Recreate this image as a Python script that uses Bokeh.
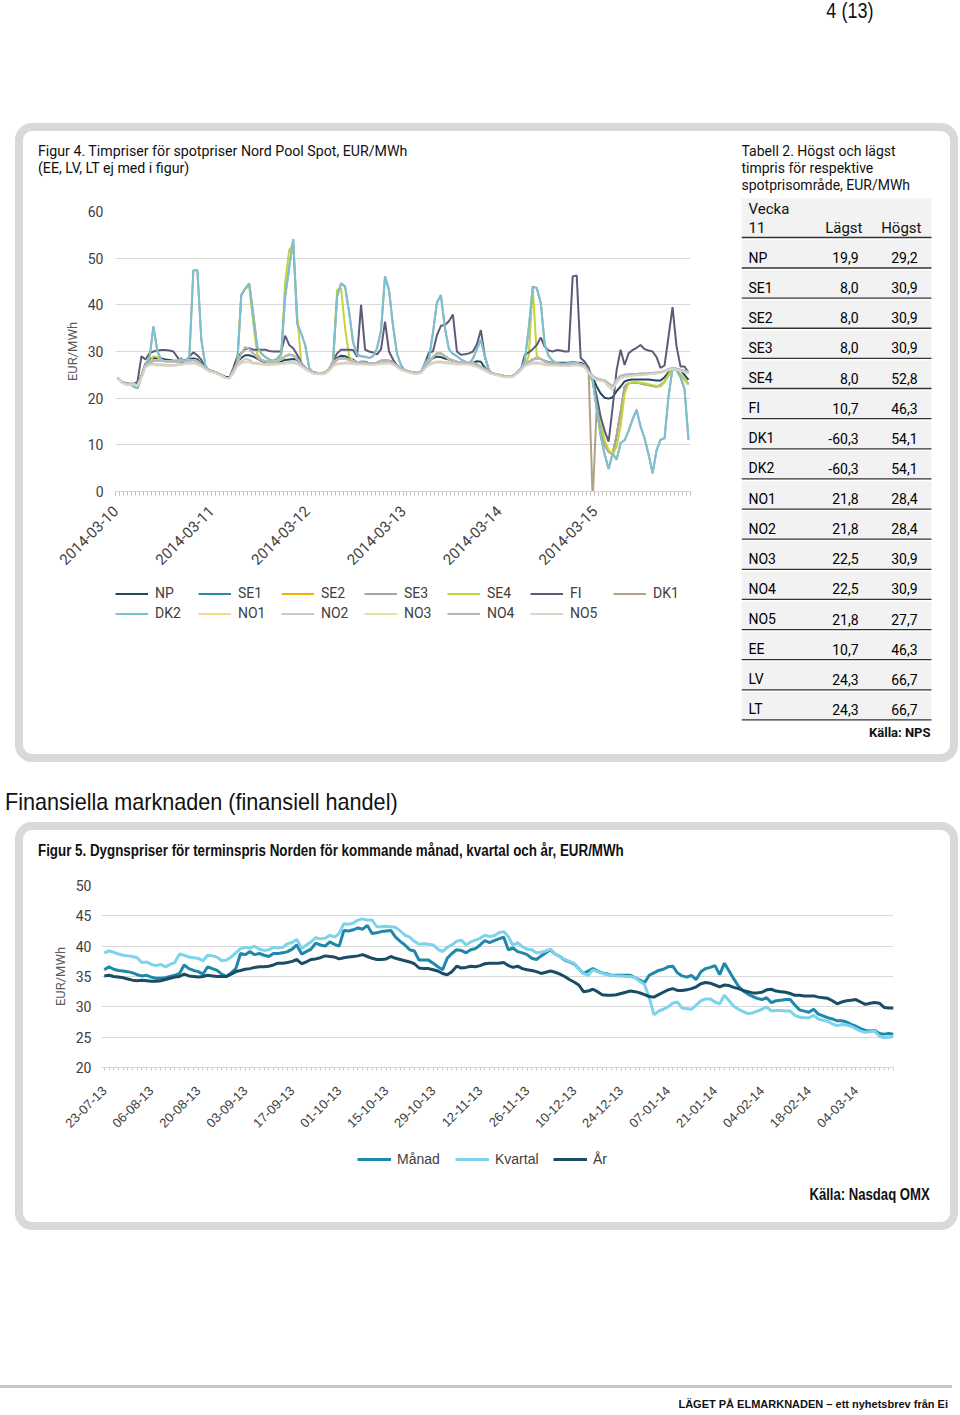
import math
from bokeh.plotting import figure
from bokeh.models import Div, Range1d, FixedTicker, Legend, LegendItem
from bokeh.layouts import column, row
from bokeh.embed import file_html
from bokeh.resources import INLINE
from bokeh.core.properties import value

# ---------------- Figur 4 data: hourly spot prices, week 11 (EUR/MWh) ----------------
day_labels = ["2014-03-10", "2014-03-11", "2014-03-12", "2014-03-13", "2014-03-14", "2014-03-15"]

np_prices = [24.3, 23.6, 23.2, 23.1, 23.1, 23.0, 24.8, 27.4, 28.3, 28.6, 28.6, 28.5, 28.3, 28.2, 28.0, 28.0, 28.0, 28.2, 28.4, 28.5, 28.3, 27.5, 26.5, 26.0,
             25.7, 25.4, 25.0, 24.6, 24.5, 26.0, 27.8, 28.6, 29.2, 29.2, 28.9, 28.5, 28.0, 27.7, 27.6, 27.5, 27.6, 27.9, 28.2, 28.3, 28.4, 28.2, 27.3, 26.5,
             26.0, 25.6, 25.4, 25.4, 25.5, 26.3, 27.8, 28.6, 29.1, 29.0, 28.6, 28.2, 27.7, 27.8, 27.8, 27.5, 27.5, 27.6, 28.0, 28.1, 28.0, 27.8, 27.0, 26.4,
             26.0, 25.7, 25.5, 25.4, 25.7, 26.8, 27.8, 28.6, 28.9, 28.8, 28.5, 28.3, 28.0, 27.8, 27.7, 27.6, 27.5, 27.6, 27.9, 27.8, 26.5, 25.7, 25.3, 25.1,
             24.9, 24.7, 24.7, 24.8, 25.4, 26.4, 27.3, 27.8, 28.3, 28.6, 28.4, 28.0, 27.7, 27.6, 27.6, 27.6, 27.6, 27.6, 27.7, 27.6, 27.6, 27.2, 26.0, 24.5,
             22.5, 21.0, 20.1, 19.9, 20.2, 21.5, 22.5, 23.6, 23.9, 24.0, 24.0, 24.0, 24.0, 24.0, 23.9, 23.8, 23.8, 24.5, 25.5, 26.4, 26.3, 26.0, 25.0, 23.9]

se_1_3 = [24.3, 23.5, 23.0, 23.0, 23.0, 22.8, 24.5, 26.9, 27.6, 28.0, 28.1, 28.0, 27.9, 27.8, 27.8, 27.8, 27.9, 28.0, 28.1, 28.2, 27.9, 27.2, 26.4, 25.9,
          25.6, 25.3, 24.9, 24.4, 24.3, 25.6, 27.6, 29.5, 30.9, 30.5, 29.6, 28.8, 28.2, 27.9, 27.8, 27.8, 27.9, 28.3, 29.0, 29.3, 29.2, 28.4, 27.4, 26.5,
          25.9, 25.5, 25.3, 25.3, 25.4, 26.2, 27.5, 28.3, 28.6, 28.5, 28.2, 27.9, 27.7, 27.6, 27.6, 27.5, 27.5, 27.6, 28.0, 28.2, 28.0, 27.6, 26.9, 26.3,
          26.0, 25.7, 25.5, 25.4, 25.6, 26.7, 27.8, 28.8, 29.6, 29.6, 29.0, 28.4, 28.1, 27.8, 27.7, 27.6, 27.6, 27.5, 27.2, 26.7, 26.2, 25.7, 25.3, 25.1,
          24.9, 24.7, 24.7, 24.8, 25.4, 26.3, 27.1, 27.8, 28.3, 28.5, 28.4, 27.9, 27.5, 27.4, 27.4, 27.3, 27.3, 27.3, 27.4, 27.4, 27.3, 27.0, 25.5, 24.0,
          18.0, 13.0, 10.0, 8.5, 8.0, 12.0, 17.0, 22.5, 23.2, 23.3, 23.3, 23.2, 23.0, 22.8, 22.6, 22.5, 22.8, 23.5, 25.0, 26.4, 26.0, 25.0, 24.0, 23.0]

se4 = [24.3, 23.5, 23.0, 23.0, 23.0, 22.8, 24.5, 26.9, 27.6, 29.0, 28.8, 28.0, 27.9, 27.8, 27.8, 27.8, 27.9, 28.0, 28.1, 28.2, 27.9, 27.2, 26.4, 25.9,
       25.6, 25.3, 24.9, 24.4, 24.3, 25.6, 28.0, 42.0, 43.5, 43.9, 36.0, 29.5, 28.2, 27.9, 27.8, 27.8, 27.9, 29.0, 45.0, 51.8, 52.8, 38.0, 27.5, 26.5,
       25.9, 25.5, 25.3, 25.3, 25.4, 26.2, 28.0, 43.2, 43.5, 35.0, 29.0, 27.9, 27.7, 27.6, 27.6, 27.5, 27.5, 27.6, 28.0, 28.2, 28.0, 27.6, 26.9, 26.3,
       26.0, 25.7, 25.5, 25.4, 25.6, 26.7, 27.8, 28.8, 29.6, 29.6, 29.0, 28.4, 28.1, 27.8, 27.7, 27.6, 27.6, 27.5, 27.2, 26.7, 26.2, 25.7, 25.3, 25.1,
       24.9, 24.7, 24.7, 24.8, 25.4, 26.3, 27.1, 29.0, 43.9, 29.0, 28.4, 27.9, 27.5, 27.4, 27.4, 27.3, 27.3, 27.3, 27.4, 27.4, 27.3, 27.0, 25.5, 23.5,
       20.0, 15.0, 11.0, 8.9, 8.0, 9.6, 14.0, 21.0, 23.2, 23.4, 23.4, 23.3, 23.2, 23.0, 22.8, 22.6, 22.5, 23.5, 25.0, 26.4, 26.0, 25.0, 24.0, 22.9]

fi = [24.3, 23.5, 23.0, 23.0, 23.0, 23.5, 29.0, 28.3, 29.6, 30.0, 30.2, 30.3, 30.3, 30.2, 30.0, 28.8, 27.6, 27.8, 28.9, 29.8, 29.2, 28.2, 26.3, 25.8,
      25.6, 25.3, 24.9, 24.4, 24.3, 26.5, 28.9, 29.6, 30.5, 30.7, 30.4, 30.4, 30.4, 30.4, 30.1, 30.0, 30.0, 30.0, 33.4, 31.4, 30.7, 29.3, 27.6, 26.5,
      25.8, 25.4, 25.2, 25.2, 25.3, 26.0, 28.0, 29.6, 30.4, 30.4, 30.4, 30.3, 28.9, 40.0, 30.4, 30.0, 29.8, 29.4, 30.5, 36.4, 30.0, 28.3, 27.0, 26.3,
      25.9, 25.6, 25.4, 25.3, 25.5, 27.5, 29.8, 30.0, 33.5, 35.5, 35.7, 36.5, 37.9, 30.0, 29.3, 29.4, 29.6, 30.0, 31.5, 34.6, 29.0, 26.0, 25.2, 25.0,
      24.8, 24.6, 24.6, 24.7, 25.3, 26.0, 29.3, 29.8, 30.5, 31.4, 33.0, 31.0, 30.2, 30.0, 30.3, 30.2, 30.0, 30.0, 46.1, 46.3, 28.6, 27.8, 26.5, 24.0,
      20.5, 16.0, 13.0, 10.7, 18.0, 26.0, 30.4, 27.1, 29.6, 30.3, 30.8, 31.4, 30.5, 30.2, 30.0, 28.8, 26.5, 27.0, 33.2, 39.5, 31.1, 26.8, 26.8, 25.5]

dk1 = [24.3, 23.4, 23.1, 23.0, 22.5, 22.1, 24.5, 27.3, 28.5, 35.4, 30.0, 28.2, 27.9, 27.9, 27.9, 27.8, 28.6, 27.5, 29.0, 47.4, 47.4, 32.5, 27.0, 25.8,
       25.6, 25.3, 24.9, 24.4, 24.3, 26.0, 27.5, 42.1, 43.5, 44.6, 38.0, 31.0, 29.6, 28.8, 28.3, 28.0, 28.5, 29.5, 41.8, 48.0, 54.1, 36.0, 33.9, 31.4,
       26.5, 25.4, 25.2, 25.2, 25.3, 26.0, 28.0, 41.8, 44.6, 43.9, 38.5, 32.0, 29.3, 29.0, 28.9, 28.6, 29.0, 30.7, 34.5, 46.1, 43.2, 35.5, 29.5, 27.1,
       25.9, 25.6, 25.4, 25.3, 25.5, 27.5, 28.5, 34.0, 40.5, 42.1, 35.0, 30.5, 29.5, 29.0, 28.3, 27.9, 27.3, 28.5, 30.5, 32.5, 28.9, 26.0, 25.2, 25.0,
       24.8, 24.6, 24.6, 24.7, 25.3, 26.2, 28.0, 35.0, 43.9, 43.6, 40.4, 31.5, 29.0, 28.0, 27.5, 27.4, 27.4, 27.5, 27.6, 27.6, 27.3, 26.8, 25.5, -2.0,
       18.0, 12.0, 8.0, 4.8, 8.2, 6.8, 10.4, 11.0, 13.0, 15.5, 17.5, 13.9, 11.4, 8.0, 3.9, 8.8, 11.1, 11.4, 20.4, 26.4, 26.1, 24.5, 22.0, 11.1]

dk2 = [24.3, 23.4, 23.1, 23.0, 22.5, 22.1, 24.5, 27.3, 28.5, 35.4, 30.0, 28.2, 27.9, 27.9, 27.9, 27.8, 28.6, 27.5, 29.0, 47.4, 47.4, 32.5, 27.0, 25.8,
       25.6, 25.3, 24.9, 24.4, 24.3, 26.0, 27.5, 42.1, 43.5, 44.6, 38.0, 31.0, 29.6, 28.8, 28.3, 28.0, 28.5, 29.5, 41.8, 48.0, 54.1, 36.0, 33.9, 31.4,
       26.5, 25.4, 25.2, 25.2, 25.3, 26.0, 28.0, 41.8, 44.6, 43.9, 38.5, 32.0, 29.3, 29.0, 28.9, 28.6, 29.0, 30.7, 34.5, 46.1, 43.2, 35.5, 29.5, 27.1,
       25.9, 25.6, 25.4, 25.3, 25.5, 27.5, 28.5, 34.0, 40.5, 42.1, 35.0, 30.5, 29.5, 29.0, 28.3, 27.9, 27.3, 28.5, 30.5, 32.5, 28.9, 26.0, 25.2, 25.0,
       24.8, 24.6, 24.6, 24.7, 25.3, 26.2, 28.0, 35.0, 43.9, 43.6, 40.4, 31.5, 29.0, 28.0, 27.5, 27.4, 27.4, 27.5, 27.6, 27.6, 27.3, 26.8, 25.5, 24.0,
       18.0, 12.0, 8.0, 4.8, 8.2, 6.8, 10.4, 11.0, 13.0, 15.5, 17.5, 13.9, 11.4, 8.0, 3.9, 8.8, 11.1, 11.4, 20.4, 26.4, 26.1, 24.5, 22.0, 11.1]

no_1_2 = [24.3, 23.5, 23.0, 23.0, 23.0, 22.8, 24.5, 26.8, 27.3, 27.3, 27.2, 27.2, 27.1, 27.1, 27.1, 27.2, 27.3, 27.5, 27.6, 27.6, 27.4, 27.0, 26.3, 25.8,
          25.6, 25.3, 24.9, 24.4, 24.3, 25.5, 27.0, 27.8, 28.4, 28.2, 27.6, 27.5, 27.4, 27.3, 27.3, 27.3, 27.4, 27.5, 27.6, 27.7, 27.7, 27.5, 27.0, 26.3,
          25.8, 25.4, 25.2, 25.2, 25.3, 26.0, 27.0, 27.4, 27.5, 27.6, 27.6, 27.5, 27.4, 27.4, 27.4, 27.3, 27.3, 27.4, 27.5, 27.6, 27.6, 27.4, 26.8, 26.2,
          25.9, 25.6, 25.4, 25.3, 25.5, 26.5, 27.3, 27.6, 27.8, 27.8, 27.7, 27.6, 27.5, 27.4, 27.4, 27.4, 27.4, 27.2, 26.9, 26.5, 26.0, 25.5, 25.2, 25.0,
          24.8, 24.6, 24.6, 24.7, 25.3, 26.2, 27.0, 27.4, 27.6, 27.6, 27.5, 27.3, 27.2, 27.2, 27.2, 27.1, 27.1, 27.1, 27.2, 27.2, 27.1, 26.8, 25.5, 24.6,
          24.0, 23.8, 23.6, 22.5, 21.8, 23.5, 24.3, 24.6, 24.8, 24.9, 25.0, 25.0, 25.1, 25.2, 25.3, 25.4, 25.5, 25.7, 26.1, 26.4, 26.2, 26.0, 25.7, 25.4]

no_3_4 = [24.3, 23.5, 23.0, 23.0, 23.0, 22.8, 24.5, 26.9, 27.6, 28.0, 28.1, 28.0, 27.9, 27.8, 27.8, 27.8, 27.9, 28.0, 28.1, 28.2, 27.9, 27.2, 26.4, 25.9,
          25.6, 25.3, 24.9, 24.4, 24.3, 25.6, 27.6, 29.5, 30.9, 30.5, 29.6, 28.8, 28.2, 27.9, 27.8, 27.8, 27.9, 28.3, 29.0, 29.3, 29.2, 28.4, 27.4, 26.5,
          25.9, 25.5, 25.3, 25.3, 25.4, 26.2, 27.5, 28.3, 28.6, 28.5, 28.2, 27.9, 27.7, 27.6, 27.6, 27.5, 27.5, 27.6, 28.0, 28.2, 28.0, 27.6, 26.9, 26.3,
          26.0, 25.7, 25.5, 25.4, 25.6, 26.7, 27.8, 28.8, 29.6, 29.6, 29.0, 28.4, 28.1, 27.8, 27.7, 27.6, 27.6, 27.5, 27.2, 26.7, 26.2, 25.7, 25.3, 25.1,
          24.9, 24.7, 24.7, 24.8, 25.4, 26.3, 27.1, 27.8, 28.3, 28.5, 28.4, 27.9, 27.5, 27.4, 27.4, 27.3, 27.3, 27.3, 27.4, 27.4, 27.3, 27.0, 25.8, 24.8,
          24.2, 24.0, 23.8, 23.2, 22.5, 24.0, 24.8, 25.0, 25.1, 25.2, 25.2, 25.3, 25.3, 25.4, 25.4, 25.5, 25.6, 25.8, 26.2, 26.5, 26.3, 26.1, 25.9, 25.6]

no5 = [24.2, 23.4, 22.9, 22.9, 22.9, 22.7, 24.3, 26.6, 27.1, 27.1, 27.0, 27.0, 26.9, 26.9, 26.9, 27.0, 27.1, 27.3, 27.4, 27.4, 27.2, 26.8, 26.2, 25.7,
       25.5, 25.2, 24.8, 24.3, 24.2, 25.3, 26.8, 27.5, 27.7, 27.7, 27.4, 27.3, 27.2, 27.1, 27.1, 27.1, 27.2, 27.3, 27.4, 27.5, 27.5, 27.3, 26.8, 26.2,
       25.7, 25.3, 25.1, 25.1, 25.2, 25.9, 26.8, 27.2, 27.3, 27.4, 27.4, 27.3, 27.2, 27.2, 27.2, 27.1, 27.1, 27.2, 27.3, 27.4, 27.4, 27.2, 26.6, 26.0,
       25.8, 25.5, 25.3, 25.2, 25.4, 26.3, 27.1, 27.4, 27.6, 27.6, 27.5, 27.4, 27.3, 27.2, 27.2, 27.2, 27.2, 27.0, 26.7, 26.3, 25.9, 25.4, 25.1, 24.9,
       24.7, 24.5, 24.5, 24.6, 25.2, 26.0, 26.8, 27.2, 27.4, 27.4, 27.3, 27.1, 27.0, 27.0, 27.0, 26.9, 26.9, 26.9, 27.0, 27.0, 26.9, 26.6, 25.4, 24.5,
       23.9, 23.7, 23.5, 22.4, 21.8, 23.4, 24.2, 24.5, 24.7, 24.8, 24.9, 24.9, 25.0, 25.1, 25.2, 25.3, 25.4, 25.6, 26.0, 26.3, 26.1, 25.9, 25.6, 25.3]

series_names = ["NP", "SE1", "SE2", "SE3", "SE4", "FI", "DK1", "DK2", "NO1", "NO2", "NO3", "NO4", "NO5"]
series_values = [np_prices, se_1_3, se_1_3, se_1_3, se4, fi, dk1, dk2, no_1_2, no_1_2, no_3_4, no_3_4, no5]
series_colors = ["#1d4a5c", "#2b8ab0", "#f0b400", "#a6a6a6", "#c8d23a", "#5b5b78", "#b0a287",
                 "#7bc0d3", "#f6d98b", "#c9c9c9", "#dde6a0", "#b4b4c4", "#dcd6c6"]

# ---------------- Tabell 2 ----------------
areas = ["NP", "SE1", "SE2", "SE3", "SE4", "FI", "DK1", "DK2", "NO1", "NO2", "NO3", "NO4", "NO5", "EE", "LV", "LT"]
lagst = [19.9, 8.0, 8.0, 8.0, 8.0, 10.7, -60.3, -60.3, 21.8, 21.8, 22.5, 22.5, 21.8, 10.7, 24.3, 24.3]
hogst = [29.2, 30.9, 30.9, 30.9, 52.8, 46.3, 54.1, 54.1, 28.4, 28.4, 30.9, 30.9, 27.7, 46.3, 66.7, 66.7]

# ---------------- Figur 5 data: daily forward prices (EUR/MWh) ----------------
f5_tick_labels = ["23-07-13", "06-08-13", "20-08-13", "03-09-13", "17-09-13", "01-10-13", "15-10-13", "29-10-13",
                  "12-11-13", "26-11-13", "10-12-13", "24-12-13", "07-01-14", "21-01-14", "04-02-14", "18-02-14", "04-03-14"]

manad = [36.1, 36.6, 36.2, 36.0, 35.9, 35.8, 35.6, 35.3, 35.1, 35.2,
         34.9, 34.7, 34.7, 34.8, 35.0, 35.2, 35.5, 36.9, 36.3, 36.0,
         35.8, 35.4, 36.6, 36.3, 36.0, 35.4, 35.0, 35.6, 36.3, 38.8,
         38.6, 39.1, 38.6, 38.8, 38.5, 38.3, 38.8, 38.8, 38.9, 39.1,
         39.5, 40.2, 38.7, 39.1, 39.5, 40.5, 40.2, 40.0, 40.7, 40.3,
         40.0, 42.6, 42.5, 42.7, 43.0, 42.8, 43.4, 42.1, 42.2, 42.4,
         42.5, 42.6, 41.5, 40.8, 40.2, 39.4, 39.2, 37.7, 37.7, 37.7,
         37.2, 36.6, 36.1, 38.0, 38.8, 39.4, 39.3, 38.9, 39.4, 39.6,
         40.2, 40.9, 40.6, 40.9, 41.2, 41.5, 39.4, 39.7, 39.1, 38.9,
         38.6, 38.0, 37.8, 38.4, 38.9, 39.4, 38.7, 38.3, 37.7, 37.4,
         37.1, 36.3, 35.5, 35.9, 36.3, 35.9, 35.6, 35.4, 35.2, 35.2,
         35.2, 35.2, 35.2, 34.8, 34.4, 34.0, 35.2, 35.6, 36.0, 36.2,
         36.6, 36.7, 35.6, 35.1, 34.9, 35.2, 34.5, 35.8, 36.3, 36.5,
         36.8, 35.3, 37.2, 35.9, 34.6, 33.4, 32.6, 32.1, 31.7, 31.4,
         31.2, 31.5, 30.7, 31.0, 31.1, 31.2, 31.2, 30.3, 29.5, 29.3,
         29.1, 29.6, 28.8, 28.5, 28.2, 28.0, 27.7, 27.7, 27.5, 27.1,
         26.8, 26.4, 26.1, 26.0, 26.1, 25.6, 25.5, 25.6, 25.5]

kvartal = [38.9, 39.2, 39.0, 38.7, 38.5, 38.4, 38.3, 38.1, 37.3, 37.4,
           37.0, 36.8, 37.0, 36.6, 37.0, 37.3, 38.7, 38.5, 38.2, 38.1,
           38.0, 37.6, 38.5, 38.4, 38.2, 37.6, 37.7, 38.2, 38.9, 39.6,
           39.8, 39.7, 40.0, 39.5, 39.3, 39.4, 39.8, 39.7, 39.8, 40.4,
           40.6, 41.1, 39.6, 40.2, 40.7, 41.4, 41.2, 41.3, 41.8, 41.5,
           42.1, 43.7, 43.6, 43.8, 44.3, 44.5, 44.3, 44.3, 43.2, 43.2,
           43.3, 43.2, 43.1, 42.5, 41.8, 41.5, 40.8, 40.3, 40.4, 40.3,
           40.2, 39.5, 39.1, 39.8, 40.2, 40.8, 41.0, 40.2, 40.7, 41.0,
           41.3, 41.8, 41.6, 41.7, 42.2, 42.4, 41.6, 40.1, 40.6, 39.9,
           39.5, 39.4, 38.9, 39.0, 39.2, 39.5, 38.7, 38.3, 37.8, 37.5,
           37.2, 36.3, 35.5, 35.2, 36.1, 35.8, 35.5, 35.3, 35.2, 35.1,
           35.1, 35.0, 35.0, 34.8, 34.2, 33.7, 31.5, 28.7, 29.3, 29.6,
           30.0, 30.6, 30.8, 29.8, 29.7, 29.6, 30.3, 31.0, 31.3, 31.3,
           30.8, 30.5, 31.9, 31.0, 30.1, 29.6, 29.2, 28.9, 29.0, 29.3,
           29.6, 30.0, 29.3, 29.4, 29.4, 29.3, 29.3, 28.6, 28.3, 28.2,
           28.2, 28.6, 28.0, 27.8, 27.6, 27.2, 26.9, 27.1, 27.0, 26.8,
           26.4, 26.0, 25.8, 25.9, 26.0, 25.2, 24.9, 25.0, 25.1]

ar = [35.1, 35.2, 35.0, 34.9, 34.8, 34.6, 34.4, 34.3, 34.4, 34.3,
      34.2, 34.2, 34.3, 34.5, 34.7, 34.9, 35.0, 35.4, 35.1, 35.0,
      34.9, 35.0, 35.2, 35.1, 35.0, 35.0, 35.0, 35.4, 35.8, 36.0,
      36.2, 36.3, 36.5, 36.6, 36.6, 36.7, 36.9, 37.2, 37.2, 37.3,
      37.5, 37.8, 37.1, 37.4, 37.8, 37.9, 38.1, 38.4, 38.3, 38.2,
      37.9, 38.1, 38.2, 38.3, 38.4, 38.6, 38.3, 38.0, 37.8, 37.8,
      37.9, 38.3, 38.0, 37.8, 37.6, 37.4, 37.1, 36.4, 36.3, 36.3,
      36.1, 35.9, 35.5, 35.3, 35.8, 36.7, 36.4, 36.5, 36.7, 36.6,
      36.8, 37.1, 37.2, 37.2, 37.2, 37.3, 36.8, 36.5, 36.7, 36.3,
      36.1, 36.0, 35.8, 35.5, 35.7, 35.9, 35.7, 35.4, 35.0, 34.5,
      34.1, 33.6, 32.5, 32.6, 32.9, 32.5, 32.0, 31.9, 31.9, 32.0,
      32.2, 32.4, 32.6, 32.5, 32.3, 32.0, 31.7, 31.6, 32.0, 32.4,
      32.8, 33.0, 32.7, 32.7, 32.8, 33.0, 33.3, 33.8, 34.0, 33.9,
      33.6, 33.3, 33.6, 33.5, 33.2, 33.0, 32.7, 32.5, 32.3, 32.3,
      32.4, 32.8, 32.9, 32.6, 32.5, 32.4, 32.2, 31.9, 31.9, 31.8,
      31.8, 31.8, 31.6, 31.5, 31.4, 31.0, 30.5, 30.8, 31.0, 31.1,
      31.2, 30.8, 30.4, 30.6, 30.7, 30.6, 29.9, 29.8, 29.8]

f5_names = ["Månad", "Kvartal", "År"]
f5_values = [manad, kvartal, ar]
f5_colors = ["#1d88ab", "#7dd3eb", "#1a4c65"]

# ---------------- styling helpers ----------------
SANS = "Roboto"
ARIAL = "Liberation Sans"
CSS_SANS = "Roboto, 'Noto Sans', sans-serif"
CSS_ARIAL = "'Liberation Sans', Arial, sans-serif"
BC = "#d9d9d9"


def div(html, w, h):
    return Div(text=html, width=w, height=h, margin=0)


def narrow(text, size, weight="normal", origin="left", scale=0.82):
    return (f'<span style="display:inline-block;white-space:nowrap;transform:scaleX({scale});'
            f'transform-origin:{origin} center;font-family:{CSS_ARIAL};font-size:{size}px;'
            f'font-weight:{weight};color:#111;">{text}</span>')


def top_strip(w, h):
    return div(f'<div style="box-sizing:border-box;width:{w}px;height:{h}px;border:8px solid {BC};'
               f'border-bottom:0;border-radius:17px 17px 0 0;"></div>', w, h)


def bottom_strip(w, h):
    return div(f'<div style="box-sizing:border-box;width:{w}px;height:{h}px;border:8px solid {BC};'
               f'border-top:0;border-radius:0 0 17px 17px;"></div>', w, h)


def side_strip(h):
    return div(f'<div style="width:8px;height:{h}px;background:{BC};"></div>', 8, h)


PANEL_W = 943
INNER_W = PANEL_W - 16


def panel(content, inner_h):
    return column(top_strip(PANEL_W, 20),
                  row(side_strip(inner_h), content, side_strip(inner_h), spacing=0),
                  bottom_strip(PANEL_W, 20), spacing=0)


def legend_strip(width, height, names, values, colors, x, lw, loc, **legend_kw):
    """A figure that only holds the legend (lines themselves lie outside its visible range)."""
    lf = figure(width=width, height=height, x_range=Range1d(-3, -2), y_range=Range1d(-3, -2),
                output_backend="svg", toolbar_location=None, title=None, min_border=0,
                x_axis_location=None, y_axis_location=None)
    lf.outline_line_color = None
    lf.grid.visible = False
    items = []
    for name, vals, col in zip(names, values, colors):
        r = lf.line(x, vals, line_color=col, line_width=lw)
        items.append(LegendItem(label=name, renderers=[r]))
    lf.add_layout(Legend(items=items, location=loc, orientation="horizontal", padding=0, margin=0,
                         border_line_color=None, background_fill_alpha=0, **legend_kw))
    return lf


# ---------------- Figur 4 chart ----------------
hour_pos = [h + 0.5 for h in range(144)]
day_ticks = [24 * d for d in range(len(day_labels))]

p4 = figure(width=718, height=388, x_range=Range1d(0, 144), y_range=Range1d(0, 60),
            output_backend="svg", toolbar_location=None, title=None,
            min_border_left=92, min_border_right=51, min_border_top=24, min_border_bottom=84)
p4.outline_line_color = None
p4.xgrid.visible = False
p4.ygrid.grid_line_color = "#d9d9d9"
p4.yaxis.ticker = FixedTicker(ticks=list(range(0, 61, 10)))
p4.yaxis.axis_line_color = None
p4.yaxis.major_tick_line_color = None
p4.yaxis.minor_tick_line_color = None
p4.yaxis.major_label_standoff = 6
p4.yaxis.major_label_text_font = SANS
p4.yaxis.major_label_text_font_size = "14px"
p4.yaxis.major_label_text_color = "#404040"
p4.yaxis.axis_label = "EUR/MWh"
p4.yaxis.axis_label_text_font = SANS
p4.yaxis.axis_label_text_font_size = "13px"
p4.yaxis.axis_label_text_font_style = "normal"
p4.yaxis.axis_label_text_color = "#595959"
p4.yaxis.axis_label_standoff = 5
p4.xaxis.ticker = FixedTicker(ticks=day_ticks, minor_ticks=list(range(0, 145)))
p4.xaxis.major_label_overrides = {t: lab for t, lab in zip(day_ticks, day_labels)}
p4.xaxis.major_label_orientation = math.pi / 4
p4.xaxis.major_label_text_font = SANS
p4.xaxis.major_label_text_font_size = "15px"
p4.xaxis.major_label_text_color = "#404040"
p4.xaxis.axis_line_color = "#d9d9d9"
p4.xaxis.major_tick_line_color = "#c0c0c0"
p4.xaxis.major_tick_in = 0
p4.xaxis.major_tick_out = 4
p4.xaxis.minor_tick_line_color = "#c0c0c0"
p4.xaxis.minor_tick_in = 0
p4.xaxis.minor_tick_out = 4
p4.xaxis.major_label_standoff = 13

for vals, col in zip(series_values, series_colors):
    p4.line(hour_pos, vals, line_color=col, line_width=2)

leg4 = legend_strip(718, 167, series_names, series_values, series_colors, hour_pos, 2, (0, 121),
                    ncols=7, glyph_width=33, glyph_height=13, label_height=13, label_width=39,
                    label_standoff=7, spacing=4, label_text_font=SANS, label_text_font_size="14px",
                    label_text_color="#404040")

title4 = div(f'<div style="padding-left:15px;font-family:{CSS_SANS};font-size:14.2px;line-height:17px;color:#111;">'
             'Figur 4. Timpriser för spotpriser Nord Pool Spot, EUR/MWh<br>(EE, LV, LT ej med i figur)</div>', 718, 44)

# ---------------- Tabell 2 ----------------
TB_W = INNER_W - 718
tb = figure(width=TB_W, height=599, x_range=Range1d(0, TB_W), y_range=Range1d(599, 0),
            output_backend="svg", toolbar_location=None, title=None, min_border=0,
            x_axis_location=None, y_axis_location=None)
tb.outline_line_color = None
tb.grid.visible = False

tb.text(x=[0, 0, 0], y=[7, 24, 41],
        text=["Tabell 2. Högst och lägst", "timpris för respektive", "spotprisområde, EUR/MWh"],
        text_font=value(SANS), text_font_size=value("14px"), text_color="#111",
        text_align="left", text_baseline="middle")
tb.quad(left=[0], right=[190], top=[55], bottom=[94], fill_color="#f2f2f2", line_color=None)
tb.text(x=[7, 7], y=[65, 84], text=["Vecka", "11"], text_font=value(SANS), text_font_size=value("15px"),
        text_color="#111", text_align="left", text_baseline="middle")
tb.text(x=[121, 180], y=[84, 84], text=["Lägst", "Högst"], text_font=value(SANS), text_font_size=value("15px"),
        text_color="#111", text_align="right", text_baseline="middle")
tb.segment(x0=[0], y0=[94], x1=[190], y1=[94], line_color="#333333", line_width=1.5)

row_pitch = 30.13
row_y = [114 + row_pitch * i for i in range(len(areas))]
tb.quad(left=[0] * len(areas), right=[190] * len(areas),
        top=[y - 17.5 for y in row_y], bottom=[y + 10.5 for y in row_y],
        fill_color="#f2f2f2", line_color=None)
tb.segment(x0=[0] * len(areas), y0=[y + 10.5 for y in row_y], x1=[190] * len(areas), y1=[y + 10.5 for y in row_y],
           line_color="#333333", line_width=1.3)
tb.text(x=[7] * len(areas), y=row_y, text=areas, text_font=value(SANS), text_font_size=value("14px"),
        text_color="#000", text_align="left", text_baseline="middle")
tb.text(x=[117] * len(areas), y=row_y, text=[f"{v:.1f}".replace(".", ",") for v in lagst],
        text_font=value(SANS), text_font_size=value("14px"), text_color="#000",
        text_align="right", text_baseline="middle")
tb.text(x=[176] * len(areas), y=row_y, text=[f"{v:.1f}".replace(".", ",") for v in hogst],
        text_font=value(SANS), text_font_size=value("14px"), text_color="#000",
        text_align="right", text_baseline="middle")
tb.text(x=[189], y=[589], text=["Källa: NPS"], text_font=value(SANS), text_font_size=value("13px"),
        text_font_style="bold", text_color="#111", text_align="right", text_baseline="middle")

panel1 = panel(row(column(title4, p4, leg4, spacing=0), tb, spacing=0), 599)

# ---------------- Figur 5 chart ----------------
day_idx = list(range(len(manad)))
f5_ticks = [10 * i for i in range(len(f5_tick_labels))]

p5 = figure(width=INNER_W, height=273, x_range=Range1d(-0.6, 168), y_range=Range1d(20, 50),
            output_backend="svg", toolbar_location=None, title=None,
            min_border_left=78, min_border_right=INNER_W - 78 - 792, min_border_top=23, min_border_bottom=68)
p5.outline_line_color = None
p5.xgrid.visible = False
p5.ygrid.grid_line_color = "#d9d9d9"
p5.yaxis.ticker = FixedTicker(ticks=list(range(20, 51, 5)))
p5.yaxis.axis_line_color = None
p5.yaxis.major_tick_line_color = None
p5.yaxis.minor_tick_line_color = None
p5.yaxis.major_label_standoff = 4
p5.yaxis.major_label_text_font = SANS
p5.yaxis.major_label_text_font_size = "14px"
p5.yaxis.major_label_text_color = "#404040"
p5.yaxis.axis_label = "EUR/MWh"
p5.yaxis.axis_label_text_font = SANS
p5.yaxis.axis_label_text_font_size = "13px"
p5.yaxis.axis_label_text_font_style = "normal"
p5.yaxis.axis_label_text_color = "#595959"
p5.yaxis.axis_label_standoff = 5
p5.xaxis.ticker = FixedTicker(ticks=f5_ticks, minor_ticks=day_idx)
p5.xaxis.major_label_overrides = {t: lab for t, lab in zip(f5_ticks, f5_tick_labels)}
p5.xaxis.major_label_orientation = math.pi / 4
p5.xaxis.major_label_text_font = ARIAL
p5.xaxis.major_label_text_font_size = "13px"
p5.xaxis.major_label_text_color = "#404040"
p5.xaxis.axis_line_color = "#d9d9d9"
p5.xaxis.major_tick_line_color = "#cccccc"
p5.xaxis.major_tick_in = 0
p5.xaxis.major_tick_out = 3
p5.xaxis.minor_tick_line_color = "#cccccc"
p5.xaxis.minor_tick_in = 0
p5.xaxis.minor_tick_out = 3
p5.xaxis.major_label_standoff = 18

for vals, col in zip(f5_values, f5_colors):
    p5.line(day_idx, vals, line_color=col, line_width=3)

leg5 = legend_strip(INNER_W, 45, f5_names, f5_values, f5_colors, day_idx, 3, (256, 13),
                    glyph_width=34, glyph_height=16, label_height=16, label_width=52,
                    label_standoff=6, spacing=6, label_text_font=ARIAL, label_text_font_size="14px",
                    label_text_color="#404040")

title5 = div(f'<div style="padding-left:15px;line-height:18px;">'
             + narrow("Figur 5. Dygnspriser för terminspris Norden för kommande månad, kvartal och år, EUR/MWh", 16, "bold", scale=0.835)
             + '</div>', INNER_W, 20)
source5 = div(f'<div style="box-sizing:border-box;width:{INNER_W}px;text-align:right;padding-right:20px;line-height:30px;">'
              + narrow("Källa: Nasdaq OMX", 16, "bold", "right") + '</div>', INNER_W, 30)

panel2 = panel(column(title5, p5, leg5, source5, spacing=0), 368)

# ---------------- page ----------------
header = div('<div style="box-sizing:border-box;width:958px;text-align:right;padding-right:85px;line-height:22px;">'
             + narrow("4 (13)", 22, "normal", "right") + '</div>', 958, 123)
heading = div('<div style="padding-top:28px;padding-left:5px;line-height:24px;">'
              + narrow("Finansiella marknaden (finansiell handel)", 24, scale=0.9) + '</div>', 958, 60)
footer = div('<div style="position:relative;width:958px;height:183px;">'
             '<div style="position:absolute;left:0;top:155px;width:952px;height:3px;background:#c8c8c8;"></div>'
             f'<div style="position:absolute;right:10px;top:168px;font-family:{CSS_ARIAL};'
             'font-weight:bold;font-size:11px;line-height:13px;color:#111;white-space:nowrap;">'
             'LÄGET PÅ ELMARKNADEN – ett nyhetsbrev från Ei</div></div>', 958, 183)

page = column(header,
              row(div("", 15, 639), panel1, spacing=0),
              heading,
              row(div("", 15, 408), panel2, spacing=0),
              footer, spacing=0)

open("out.html", "w").write(file_html(page, INLINE))
